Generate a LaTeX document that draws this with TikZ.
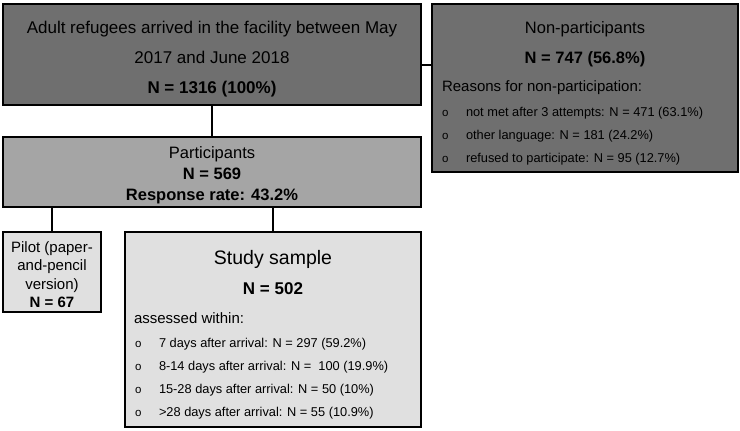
\documentclass[tikz,border=0pt]{standalone}
\usepackage{fontspec}
\setmainfont{Liberation Sans}
\usetikzlibrary{positioning, calc}
\definecolor{cdark}{HTML}{6F6F6F}
\definecolor{cmid}{HTML}{A5A5A5}
\definecolor{clight}{HTML}{E0E0E0}
\newcommand{\bul}{\makebox[24pt][l]{\fontsize{11.5}{11.5}\selectfont o}}
\tikzset{
  every picture/.style={line width=2pt},
  box/.style={draw=black, fill=#1, anchor=north west, inner sep=0pt, outer sep=0pt},
  box/.default=clight,
  link/.style={draw=black, line width=2pt},
  txt/.style={align=center, inner sep=0pt},
  big/.style={font=\fontsize{16.5}{16.5}\selectfont},
  count/.style={font=\bfseries\fontsize{16.5}{16.5}\selectfont},
  sub/.style={font=\fontsize{15}{15}\selectfont, anchor=west, inner sep=0pt},
  list/.style={font=\fontsize{12.8}{23}\selectfont, align=left, anchor=west, inner sep=0pt},
}

\begin{document}
\begin{tikzpicture}[x=1pt, y=-1pt]
  \useasboundingbox (0,0) rectangle (740,431);
  \node[box=cdark, minimum width=418pt, minimum height=101pt] (adult) at (3,4) {};
  \node[txt, font=\fontsize{17}{30}\selectfont] (adulttext) at ([yshift=-4.5pt]adult.center) {Adult refugees arrived in the facility between May\\2017 and June 2018\\\textbf{N = 1316 (100\%)}};
  \node[box=cdark, minimum width=306pt, minimum height=168pt] (nonpart) at (432,4) {};
  \node[big] (nptitle) at ([yshift=-25pt]nonpart.north) {Non-participants};
  \node[count] (npcount) at ([yshift=-55pt]nonpart.north) {N = 747 (56.8\%)};
  \node[sub] (npreason) at ([xshift=9pt,yshift=-84pt]nonpart.north west) {Reasons for non-participation:};
  \node[list] (nplist) at ([xshift=9pt,yshift=-132.5pt]nonpart.north west) {\bul not met after 3 attempts: N = 471 (63.1\%)\\\bul other language: N = 181 (24.2\%)\\\bul refused to participate: N = 95 (12.7\%)};
  \node[box=cmid, minimum width=418pt, minimum height=70pt, below=32pt of adult] (part) {};
  \node[txt, font=\fontsize{16.5}{20.8}\selectfont] (parttext) at ([yshift=-3pt]part.center) {Participants\\\textbf{N = 569}\\\textbf{Response rate: 43.2\%}};
  \node[box, minimum width=98pt, minimum height=80pt, below right=25pt and 0pt of part.south west] (pilot) {};
  \node[txt, font=\fontsize{15}{18.3}\selectfont] (pilottext) at ([yshift=-2.5pt]pilot.center) {Pilot (paper-\\and-pencil\\version)\\\textbf{N = 67}};
  \node[box, minimum width=296pt, minimum height=195pt, below left=25pt and 0pt of part.south east] (study) {};
  \node[font=\fontsize{19.5}{19.5}\selectfont] (sstitle) at ([yshift=-27pt]study.north) {Study sample};
  \node[font=\bfseries\fontsize{17}{17}\selectfont] (sscount) at ([yshift=-57pt]study.north) {N = 502};
  \node[sub] (ssassess) at ([xshift=8pt,yshift=-86pt]study.north west) {assessed within:};
  \node[list] (sslist) at ([xshift=9pt,yshift=-147pt]study.north west) {\bul 7 days after arrival: N = 297 (59.2\%)\\\bul 8-14 days after arrival: N = \ 100 (19.9\%)\\\bul 15-28 days after arrival: N = 50 (10\%)\\\bul >28 days after arrival: N = 55 (10.9\%)};
  \draw[link] (adult) -- (part);
  \draw[link] ([yshift=-10.5pt]adult.east) -- ([yshift=-10.5pt]adult.east -| nonpart.west);
  \draw[link] (part.south -| pilot.north) -- (pilot.north);
  \draw[link] (part.south -| study.north) -- (study.north);
\end{tikzpicture}
\end{document}
